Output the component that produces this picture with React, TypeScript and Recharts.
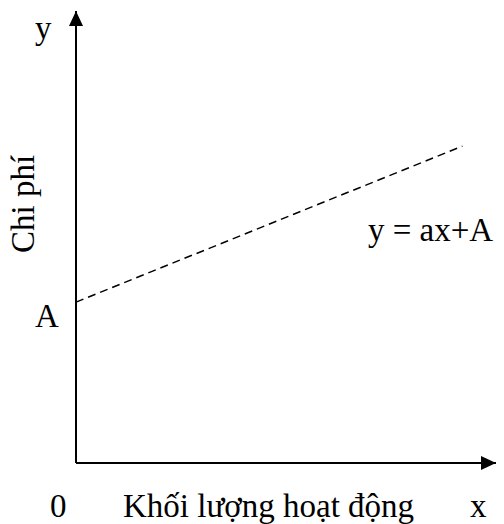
import { LineChart, Line, XAxis, YAxis, ReferenceLine, ReferenceDot, Customized } from 'recharts';

// Cost function y = ax + A, drawn on a 0..10 grid
const FIXED_COST = 3.56; // A
const END_X = 9.2;
const END_Y = 7.01;
const X_MAX = 10;
const Y_MAX = 10;

const costLine = [
    { x: 0, y: FIXED_COST },
    { x: END_X, y: END_Y },
];

const FONT = '"Liberation Serif", "Times New Roman", serif';

const UpArrow = ({ cx, cy }: any) => (
    <polygon points={`${cx},${cy} ${cx - 7},${cy + 15} ${cx + 7},${cy + 15}`} fill="#000" />
);

const RightArrow = ({ cx, cy }: any) => (
    <polygon points={`${cx},${cy} ${cx - 15},${cy - 7} ${cx - 15},${cy + 7}`} fill="#000" />
);

const Labels = () => (
    <g fontFamily={FONT} fontSize={33} fill="#000">
        <text x={35} y={39}>y</text>
        <text x={34} y={204} transform="rotate(-90 34 204)" textAnchor="middle">Chi phí</text>
        <text x={35} y={327}>A</text>
        <text x={368} y={241}>y = ax+A</text>
        <text x={50} y={517}>0</text>
        <text x={123} y={517}>Khối lượng hoạt động</text>
        <text x={470} y={517}>x</text>
    </g>
);

export default function App() {
    return (
        <div style={{ position: 'absolute', left: 0, top: 0, width: 504, height: 524, background: '#fff' }}>
            <LineChart width={504} height={524} data={costLine} margin={{ top: 11, right: 8, bottom: 61, left: 76 }}>
                <XAxis type="number" dataKey="x" domain={[0, X_MAX]} hide />
                <YAxis type="number" domain={[0, Y_MAX]} hide />
                <ReferenceLine x={0} stroke="#000" strokeWidth={2} />
                <ReferenceLine y={0} stroke="#000" strokeWidth={2} />
                <ReferenceDot x={0} y={Y_MAX} r={0} shape={UpArrow} ifOverflow="visible" />
                <ReferenceDot x={X_MAX} y={0} r={0} shape={RightArrow} ifOverflow="visible" />
                <Line
                    dataKey="y"
                    stroke="#000"
                    strokeWidth={1.5}
                    strokeDasharray="8 5"
                    dot={false}
                    isAnimationActive={false}
                />
                <Customized component={Labels} />
            </LineChart>
        </div>
    );
}
